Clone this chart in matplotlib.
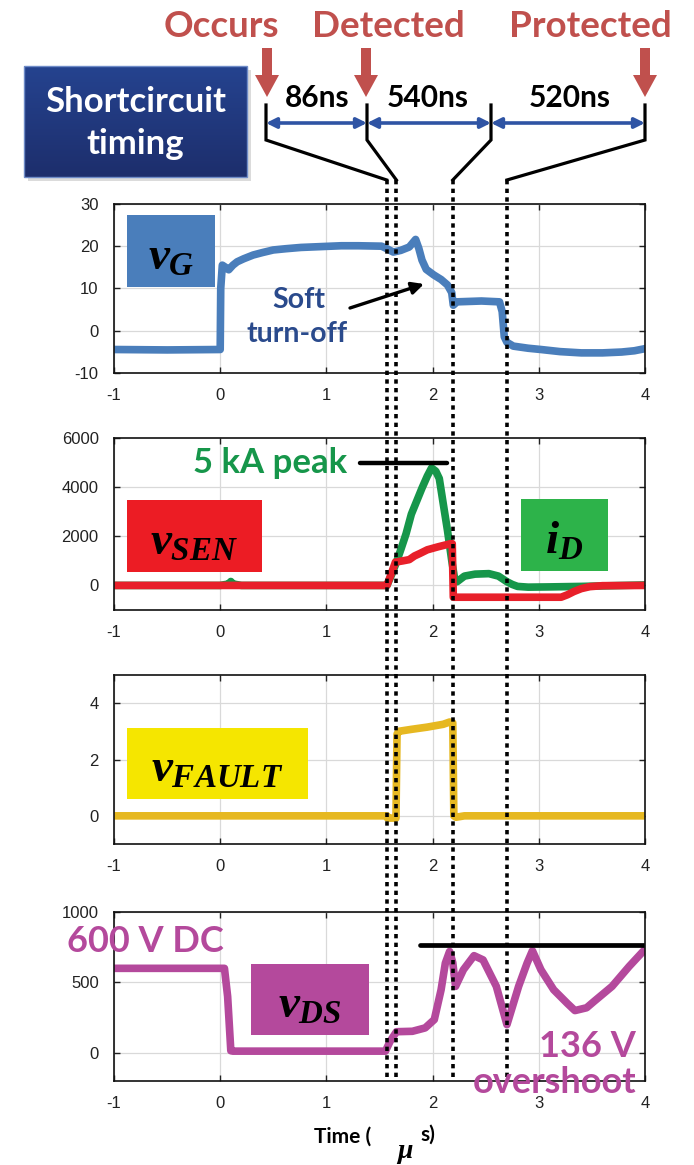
import numpy as np
import matplotlib
matplotlib.use('Agg')
import matplotlib.pyplot as plt
from matplotlib.patches import Rectangle, FancyArrow
from matplotlib.colors import LinearSegmentedColormap

# ---------------- data ----------------
t_vg = [-1.0, -0.5, 0.0, 0.005, 0.02, 0.05, 0.08, 0.12, 0.16, 0.22, 0.31, 0.4, 0.5,
        0.62, 0.76, 0.95, 1.14, 1.3, 1.52, 1.57, 1.63, 1.70, 1.78, 1.84, 1.87, 1.90,
        1.94, 2.01, 2.08, 2.14, 2.18, 2.195, 2.23, 2.46, 2.63, 2.655, 2.675, 2.70,
        2.76, 2.9, 3.02, 3.2, 3.4, 3.6, 3.78, 3.9, 4.0]
vg = [-4.5, -4.6, -4.5, 10.0, 15.5, 15.0, 14.4, 15.5, 16.3, 17.0, 17.9, 18.5, 19.1,
      19.4, 19.7, 19.9, 20.1, 20.1, 20.0, 19.4, 18.6, 19.0, 19.8, 21.6, 19.5, 16.7,
      14.5, 13.2, 12.1, 10.8, 9.0, 6.0, 6.8, 7.0, 6.8, 4.5, -1.5, -2.8, -3.7, -4.2,
      -4.5, -5.0, -5.3, -5.3, -5.1, -4.8, -4.3]

t_id = [-1.0, 0.0, 0.08, 0.1, 0.12, 0.2, 1.55, 1.57, 1.62, 1.66, 1.70, 1.75, 1.80,
        1.85, 1.90, 1.95, 1.99, 2.03, 2.063, 2.10, 2.14, 2.18, 2.21, 2.23, 2.30, 2.40,
        2.53, 2.62, 2.70, 2.75, 2.80, 2.9, 3.1, 3.4, 3.7, 4.0]
i_d = [0, 0, 60, 160, 60, 0, 0, 0, 500, 950, 1450, 2100, 2900, 3430, 3960, 4450,
       4780, 4650, 4350, 3330, 2240, 1020, 200, 150, 380, 460, 480, 380, 150, 40, -40,
       -70, -60, -40, -10, 20]

t_sen = [-1.0, 1.55, 1.57, 1.60, 1.65, 1.72, 1.78, 1.83, 1.88, 1.95, 2.05, 2.17, 2.185,
         2.195, 3.21, 3.27, 3.33, 3.40, 3.48, 3.6, 4.0]
v_sen = [0, 0, 0, 350, 950, 1000, 1050, 1200, 1300, 1450, 1570, 1700, 1700, -480,
         -480, -380, -250, -130, -50, -10, 0]

t_fault = [-1.0, 1.57, 1.575, 1.655, 1.665, 1.68, 1.8, 1.95, 2.1, 2.16, 2.19, 2.2,
           2.22, 2.3, 4.0]
v_fault = [0.0, 0.0, -0.08, -0.08, 2.9, 3.0, 3.07, 3.15, 3.25, 3.33, 3.3, 0.0,
           -0.05, 0.0, 0.0]

t_vds = [-1.0, 0.04, 0.07, 0.10, 0.12, 0.5, 1.0, 1.556, 1.60, 1.66, 1.81, 1.93, 2.016,
         2.08, 2.12, 2.16, 2.19, 2.216, 2.29, 2.39, 2.475, 2.60, 2.70, 2.81, 2.89,
         2.94, 3.02, 3.14, 3.27, 3.34, 3.45, 3.52, 3.69, 3.85, 4.0]
v_ds = [600, 600, 400, 15, 12, 12, 12, 12, 82, 150, 153, 177, 236, 448, 637, 720, 640,
        472, 590, 690, 660, 472, 200, 472, 637, 725, 590, 448, 350, 300, 320, 365, 472,
        613, 735]

event_times = [1.568, 1.659, 2.19, 2.70]
x_ticks = [-1, 0, 1, 2, 3, 4]
peak_current = 5000
overshoot_level = 768
interval_labels = ['86ns', '540ns', '520ns']
event_labels = ['Occurs', 'Detected', 'Protected']

# ---------------- figure ----------------
W, H = 694, 1165
plt.rcParams['axes.unicode_minus'] = False
plt.rcParams['mathtext.fontset'] = 'custom'
plt.rcParams['mathtext.it'] = 'Liberation Serif:italic:bold'
plt.rcParams['mathtext.rm'] = 'Liberation Serif:bold'
fig = plt.figure(figsize=(W / 100, H / 100), dpi=100)
fig.patch.set_facecolor('white')

TXT = ['Lato', 'DejaVu Sans']


def rect(l, t, r, b):
    return [l / W, 1 - b / H, (r - l) / W, (b - t) / H]


def style(ax, ylim, yticks):
    ax.set_xlim(-1, 4)
    ax.set_ylim(*ylim)
    ax.set_xticks(x_ticks)
    ax.set_yticks(yticks)
    ax.grid(True, color='#d9d9d9', lw=0.9)
    ax.set_axisbelow(True)
    ax.tick_params(direction='in', top=True, right=True, length=4, width=1,
                   labelsize=12, pad=11, colors='#222222')
    for lab in ax.get_xticklabels() + ax.get_yticklabels():
        lab.set_family(['Liberation Sans', 'DejaVu Sans'])
    for s in ax.spines.values():
        s.set_linewidth(1.2)
        s.set_color('#111111')


LW = 5.5
ax1 = fig.add_axes(rect(114, 204, 645, 372.7))
ax1.plot(t_vg, vg, color='#4a7ebb', lw=LW, solid_joinstyle='round')
style(ax1, (-10, 30), [-10, 0, 10, 20, 30])

ax2 = fig.add_axes(rect(114, 438, 645, 610))
ax2.plot(t_id, i_d, color='#16964a', lw=LW, solid_joinstyle='round')
ax2.plot(t_sen, v_sen, color='#e8202a', lw=LW, solid_joinstyle='round')
ax2.plot([1.32, 2.14], [peak_current, peak_current], color='k', lw=3.2,
         solid_capstyle='round')
style(ax2, (-1000, 6000), [0, 2000, 4000, 6000])
ax2.yaxis.get_gridlines()[-1].set_visible(False)

ax3 = fig.add_axes(rect(114, 675, 645, 844))
ax3.plot(t_fault, v_fault, color='#e6b821', lw=LW, solid_joinstyle='round')
style(ax3, (-1, 5), [0, 2, 4])

ax4 = fig.add_axes(rect(114, 912, 645, 1081))
ax4.plot(t_vds, v_ds, color='#b4499c', lw=LW, solid_joinstyle='round')
ax4.plot([1.88, 4.0], [overshoot_level, overshoot_level], color='k', lw=3.4,
         solid_capstyle='round')
style(ax4, (-200, 1000), [0, 500, 1000])

# ---------------- overlay (pixel coordinates) ----------------
ov = fig.add_axes([0, 0, 1, 1], zorder=10)
ov.patch.set_alpha(0)
ov.axis('off')

# header box with gradient
ov.add_patch(Rectangle((28, 70), 223, 111, color='#9a9a9a', alpha=0.35, lw=0))
grad = np.linspace(0, 1, 100).reshape(-1, 1)
cmap = LinearSegmentedColormap.from_list('g', ['#25438f', '#1d2e6c'])
ov.imshow(grad, extent=(24, 247, 177, 66), origin='upper', cmap=cmap,
          aspect='auto', zorder=2)
ov.add_patch(Rectangle((24, 66), 223, 111, fill=False, ec='#6f8cc8', lw=1, zorder=3))
ov.text(135.5, 112, 'Shortcircuit', color='white', fontsize=25, fontweight='bold',
        family=TXT, ha='center', va='baseline', zorder=4)
ov.text(135.5, 154, 'timing', color='white', fontsize=25, fontweight='bold',
        family=TXT, ha='center', va='baseline', zorder=4)

RED = '#c0504d'
BLUE = '#2f54a4'
# event labels and red arrows
for lab, xc in zip(event_labels, [221, 388, 590]):
    ov.text(xc, 37, lab, color=RED, fontsize=26.5, fontweight='bold', family=TXT,
            ha='center', va='baseline')
for xa in [267, 366, 645]:
    ov.add_patch(FancyArrow(xa, 48, 0, 49, width=10, head_width=24, head_length=22,
                            length_includes_head=True, color=RED, lw=0))

# bracket ticks, blue double arrows, interval labels
tick_x = [266, 367, 491, 645]
for i in range(3):
    ov.annotate('', xy=(tick_x[i + 1], 123), xytext=(tick_x[i], 123),
                arrowprops=dict(arrowstyle='<|-|>', color=BLUE, lw=2.6,
                                mutation_scale=15, shrinkA=0, shrinkB=0))
for lab, xc in zip(interval_labels, [317, 428, 570]):
    ov.text(xc, 107, lab, color='black', fontsize=21.5, fontweight='bold', family=TXT,
            ha='center', va='baseline')

dot_x = [ax4.transData.transform((t, 0))[0] for t in event_times]
for tx, dx in zip(tick_x, dot_x):
    ov.plot([tx, tx, dx], [105, 140, 180], color='black', lw=2.3,
            solid_joinstyle='miter')
    ov.plot([dx, dx], [180, 1081], color='black', lw=2.6, ls=(0, (1.2, 1.2)),
            dash_capstyle='butt')

# label boxes with math text
boxes = [((127, 215, 215, 287), '#4a7ebb', r'$v_{G}$'),
         ((127, 500, 262, 572), '#ec1c24', r'$v_{SEN}$'),
         ((521, 499, 608, 571), '#2db34a', r'$i_{D}$'),
         ((127, 728, 308, 799), '#f5e600', r'$v_{FAULT}$'),
         ((251, 964, 369, 1035), '#b4499c', r'$v_{DS}$')]
for (l, t, r, b), col, s in boxes:
    ov.add_patch(Rectangle((l, t), r - l, b - t, color=col, lw=0, zorder=2))
    ov.text((l + r) / 2, (t + b) / 2 + 6, s, fontsize=34, color='black',
            ha='center', va='center', zorder=4)

NAVY = '#2a4a8c'
ov.text(299, 308, 'Soft', color=NAVY, fontsize=20.5, fontweight='bold', family=TXT,
        ha='center', va='baseline')
ov.text(297, 342, 'turn-off', color=NAVY, fontsize=20.5, fontweight='bold',
        family=TXT, ha='center', va='baseline')
ov.annotate('', xy=(424, 284), xytext=(350, 308),
            arrowprops=dict(arrowstyle='-|>', color='black', lw=2.4,
                            mutation_scale=18, shrinkA=0, shrinkB=0))

GREEN = '#16964a'
ov.text(270, 473, '5 kA peak', color=GREEN, fontsize=25, fontweight='bold',
        family=TXT, ha='center', va='baseline')

MAG = '#b4499c'
ov.text(145, 952, '600 V DC', color=MAG, fontsize=26, fontweight='bold', family=TXT,
        ha='center', va='baseline')
ov.text(636, 1057, '136 V', color=MAG, fontsize=26, fontweight='bold', family=TXT,
        ha='right', va='baseline')
ov.text(636, 1093, 'overshoot', color=MAG, fontsize=26, fontweight='bold',
        family=TXT, ha='right', va='baseline')

# broken x-axis label
ov.text(343, 1143, 'Time (', color='black', fontsize=15, fontweight='bold',
        family=TXT, ha='center', va='baseline')
ov.text(405, 1158, r'$\mu$', color='black', fontsize=20, ha='center', va='baseline')
ov.text(428, 1141, 's)', color='black', fontsize=15, fontweight='bold', family=TXT,
        ha='center', va='baseline')

ov.set_xlim(0, W)
ov.set_ylim(H, 0)

fig.savefig('out.png', dpi=100, facecolor='white')
